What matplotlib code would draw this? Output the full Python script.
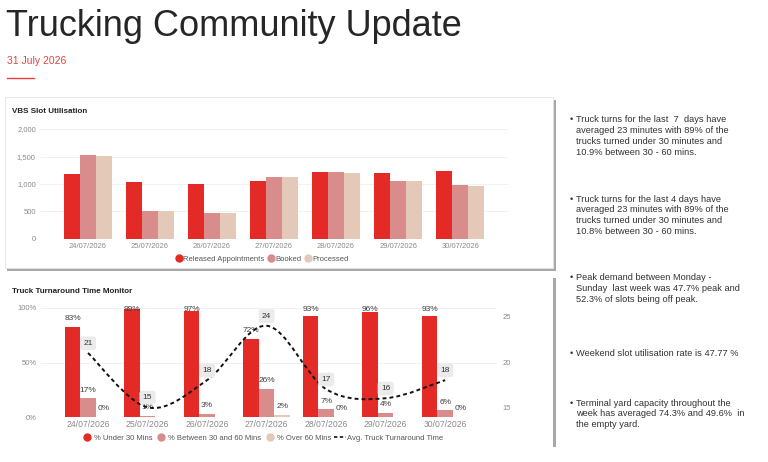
import numpy as np
import matplotlib
matplotlib.use("Agg")
import matplotlib.pyplot as plt
from matplotlib.patches import Rectangle, PathPatch
from matplotlib.path import Path
from matplotlib.lines import Line2D

plt.rcParams['font.family'] = ['Liberation Sans', 'DejaVu Sans']

# data
dates = ['24/07/2026', '25/07/2026', '26/07/2026', '27/07/2026',
         '28/07/2026', '29/07/2026', '30/07/2026']
released = [1175, 1040, 993, 1047, 1210, 1205, 1240]
booked = [1520, 502, 475, 1125, 1210, 1060, 975]
processed = [1508, 500, 478, 1120, 1205, 1055, 963]

under30 = [83, 99, 97, 72, 93, 96, 93]
between = [17, 1, 3, 26, 7, 4, 6]
over60 = [0, 0, 0, 2, 0, 0, 0]
over_labelled = [True, False, False, True, True, False, True]
avg_tat = [21, 15, 18, 24, 17, 16, 18]

bullets = [
    "Truck turns for the last  7  days have\naveraged 23 minutes with 89% of the\ntrucks turned under 30 minutes and\n10.9% between 30 - 60 mins.",
    "Truck turns for the last 4 days have\naveraged 23 minutes with 89% of the\ntrucks turned under 30 minutes and\n10.8% between 30 - 60 mins.",
    "Peak demand between Monday -\nSunday  last week was 47.7% peak and\n52.3% of slots being off peak.",
    "Weekend slot utilisation rate is 47.77 %",
    "Terminal yard capacity throughout the\nweek has averaged 74.3% and 49.6%  in\nthe empty yard.",
]
bullet_y = [119, 198, 277, 353, 402]

RED = '#E32A26'
PINK = '#D98C8C'
CREAM = '#E4C8B8'
GRAY = '#8A8A8A'

W, H = 768, 462
fig = plt.figure(figsize=(W / 100, H / 100), dpi=100)
fig.patch.set_facecolor('white')


def fx(x):
    return x / W


def fy(y):
    return 1 - y / H


def box(x0, y0, x1, y1):
    return [fx(x0), fy(y1), fx(x1) - fx(x0), fy(y0) - fy(y1)]


# header
fig.text(fx(6), fy(36), 'Trucking Community Update', fontsize=26, color='#262626')
fig.text(fx(7), fy(64), '31 July 2026', fontsize=7.5, color='#E8423F')
fig.add_artist(Line2D([fx(7), fx(34)], [fy(78), fy(78)], color='#E8423F', lw=1))

# panels
fig.add_artist(Rectangle((fx(7), fy(271)), fx(549), fy(100) - fy(271), facecolor='#A8A8A8',
                         edgecolor='none', zorder=-2))
fig.add_artist(Rectangle((fx(5), fy(268)), fx(548), fy(97) - fy(268), facecolor='white',
                         edgecolor='#E2E2E2', lw=0.6, zorder=-1))
fig.add_artist(Rectangle((fx(553), fy(447)), fx(3), fy(278) - fy(447), facecolor='#A8A8A8',
                         edgecolor='none', zorder=-2))

fig.text(fx(12), fy(113), 'VBS Slot Utilisation', fontsize=5.8, fontweight='bold', color='#222222')
fig.text(fx(12), fy(293), 'Truck Turnaround Time Monitor', fontsize=5.8, fontweight='bold',
         color='#222222')

x = np.arange(len(dates))
bw = 0.26

# top chart
ax1 = fig.add_axes(box(40, 129, 508, 239))
ax1.set_zorder(2)
ax1.patch.set_alpha(0)
ax1.bar(x - bw, released, bw, color=RED, zorder=2)
ax1.bar(x, booked, bw, color=PINK, zorder=2)
ax1.bar(x + bw, processed, bw, color=CREAM, zorder=2)
ax1.set_xlim(-0.77, 6.77)
ax1.set_ylim(0, 2000)
ax1.set_yticks([0, 500, 1000, 1500, 2000])
ax1.set_yticklabels(['0', '500', '1,000', '1,500', '2,000'])
ax1.set_xticks(x)
ax1.set_xticklabels(dates)
ax1.grid(axis='y', color='#EFEFEF', lw=0.6, zorder=0)
ax1.tick_params(length=0, labelsize=5.5, labelcolor=GRAY, pad=3)
for s in ax1.spines.values():
    s.set_visible(False)
ax1.axhline(0, color='#E4E4E4', lw=0.6)

h1 = [Line2D([], [], marker='o', ls='none', color=c, markersize=5) for c in (RED, PINK, CREAM)]
fig.legend(h1, ['Released Appointments', 'Booked', 'Processed'], loc='center',
           bbox_to_anchor=(fx(262), fy(259)), ncol=3, frameon=False, fontsize=5.5,
           handletextpad=0.05, columnspacing=0.4, labelcolor='#555555', handlelength=1)

# bottom chart
ax2 = fig.add_axes(box(41, 308, 497, 417))
ax2.patch.set_alpha(0)
ax2.bar(x - bw, under30, bw, color=RED, zorder=2)
ax2.bar(x, between, bw, color=PINK, zorder=2)
ax2.bar(x + bw, over60, bw, color=CREAM, zorder=2)
ax2.set_xlim(-0.79, 6.87)
ax2.set_ylim(0, 100)
ax2.set_yticks([0, 50, 100])
ax2.set_yticklabels(['0%', '50%', '100%'])
ax2.set_xticks(x)
ax2.set_xticklabels(dates)
ax2.grid(axis='y', color='#EFEFEF', lw=0.6, zorder=0)
ax2.tick_params(length=0, labelsize=5.5, labelcolor=GRAY, pad=3)
ax2.tick_params(axis='x', labelsize=6.2, pad=2)
for s in ax2.spines.values():
    s.set_visible(False)
ax2.axhline(0, color='#E4E4E4', lw=0.6)


def bar_label(xpos, v):
    # labels sit ~8px over the bar, kept inside the plot area
    ly = min(v + 7.5, 98.5)
    ax2.text(xpos, ly, f'{v}%', ha='center', va='center', fontsize=6, color='#404040', zorder=5)


for xi, v in zip(x, under30):
    bar_label(xi - bw, v)
for xi, v in zip(x, between):
    bar_label(xi, v)
for xi, v, show in zip(x, over60, over_labelled):
    if show:
        bar_label(xi + bw, v)

ax3 = ax2.twinx()
ax3.set_ylim(13.93, 25.96)
ax3.set_yticks([15, 20, 25])
ax3.tick_params(length=0, labelsize=5.5, labelcolor=GRAY, pad=4)
for s in ax3.spines.values():
    s.set_visible(False)

# smoothed line through the points (Catmull-Rom as bezier segments)
pts = np.column_stack([x, avg_tat]).astype(float)
verts = [tuple(pts[0])]
codes = [Path.MOVETO]
n = len(pts)
for i in range(n - 1):
    p0 = pts[max(i - 1, 0)]
    p1 = pts[i]
    p2 = pts[i + 1]
    p3 = pts[min(i + 2, n - 1)]
    c1 = p1 + (p2 - p0) / 6
    c2 = p2 - (p3 - p1) / 6
    verts += [tuple(c1), tuple(c2), tuple(p2)]
    codes += [Path.CURVE4] * 3
ax3.add_patch(PathPatch(Path(verts, codes), fill=False, edgecolor='#111111', lw=1.4,
                        linestyle=(0, (2, 1.6)), zorder=4))
for xi, v in zip(x, avg_tat):
    ax3.annotate(str(v), (xi, v), xytext=(0, 7), textcoords='offset points', ha='center',
                 va='center', fontsize=6, color='#333333', zorder=6,
                 bbox=dict(boxstyle='round,pad=0.4,rounding_size=0.3', fc='#EBEBEB', ec='none'))

h2 = [Line2D([], [], marker='o', ls='none', color=c, markersize=5) for c in (RED, PINK, CREAM)]
h2.append(Line2D([], [], color='#111111', lw=1.2, ls=(0, (2, 1.5))))
fig.legend(h2, ['% Under 30 Mins', '% Between 30 and 60 Mins', '% Over 60 Mins',
                'Avg. Truck Turnaround Time'], loc='center',
           bbox_to_anchor=(fx(262), fy(438)), ncol=4, frameon=False, fontsize=5.5,
           handletextpad=0.05, columnspacing=0.4, labelcolor='#555555', handlelength=1.6)

# commentary
for txt, yb in zip(bullets, bullet_y):
    fig.text(fx(569.5), fy(yb + 1), '\u2022', fontsize=6.7, color='#333333', va='center')
    fig.text(fx(576.5), fy(yb - 3.5), txt, fontsize=6.7, color='#333333', va='top',
             linespacing=1.24)

fig.savefig('out.png', dpi=100, facecolor='white')
